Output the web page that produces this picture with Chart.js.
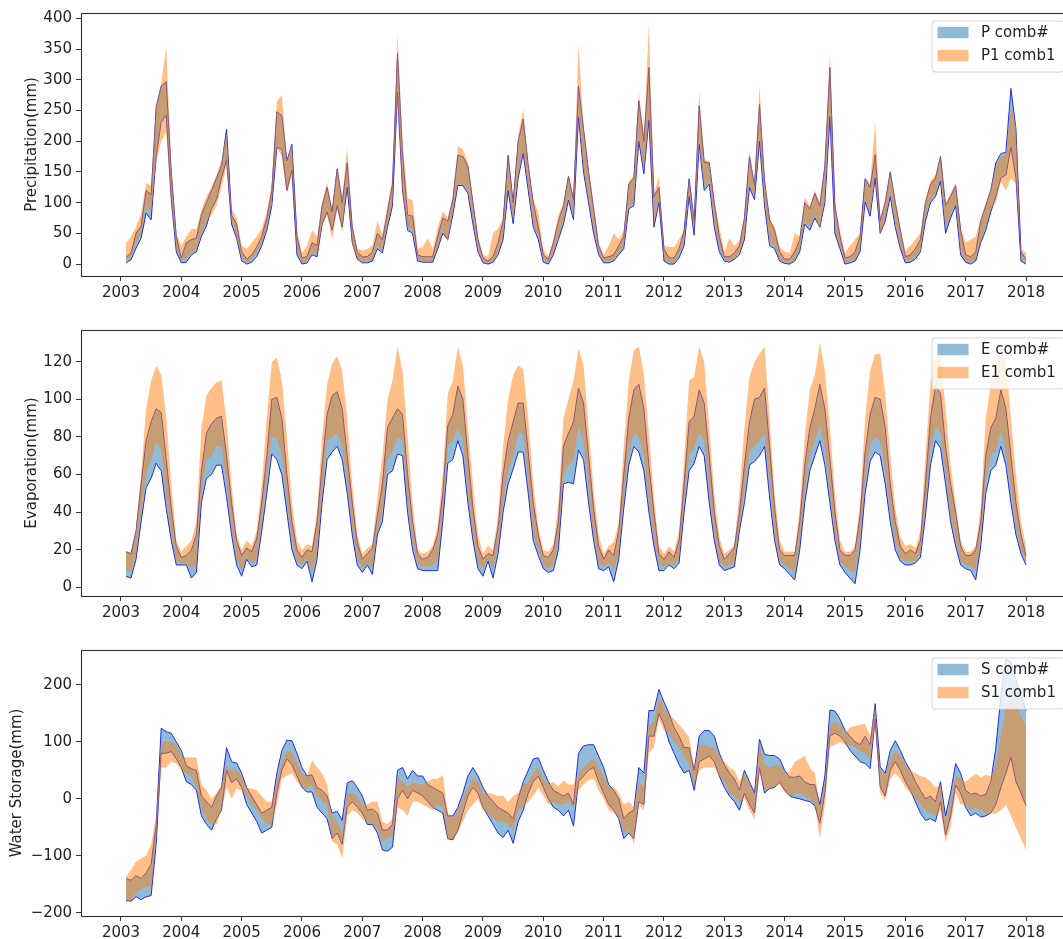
<!DOCTYPE html>
<html>
<head>
<meta charset="utf-8">
<script src="https://cdn.jsdelivr.net/npm/chart.js@4.4.1/dist/chart.umd.min.js"></script>
<style>
  html, body { margin: 0; padding: 0; background: #fff; overflow: hidden; width: 1063px; height: 939px; }
  .panel { position: absolute; left: 0; width: 1071px; height: 320px; }
</style>
</head>
<body>
<div class="panel" style="top:0px"><canvas id="chartP" width="1071" height="320"></canvas></div>
<div class="panel" style="top:317px"><canvas id="chartE" width="1071" height="320"></canvas></div>
<div class="panel" style="top:637px"><canvas id="chartS" width="1071" height="320"></canvas></div>
<script>
// Monthly series, Jan 2003 .. Dec 2017 (one row per year)

// Precipitation (mm)
const P_COMB_LO = [
  2, 7, 26, 42, 83, 72, 175, 231, 242, 105, 20, 2,
  3, 15, 20, 45, 62, 90, 105, 140, 170, 65, 42, 5,
  0, 3, 12, 30, 55, 95, 190, 187, 120, 153, 15, 0,
  2, 15, 12, 65, 85, 55, 95, 60, 125, 35, 8, 2,
  2, 5, 25, 18, 60, 95, 280, 120, 55, 50, 5, 3,
  3, 3, 25, 50, 40, 80, 128, 128, 115, 65, 20, 2,
  0, 3, 15, 40, 120, 66, 140, 180, 120, 60, 40, 3,
  0, 15, 40, 65, 104, 72, 240, 150, 100, 50, 15, 2,
  2, 5, 15, 25, 90, 95, 200, 147, 235, 60, 100, 5,
  0, 0, 10, 30, 110, 47, 195, 120, 130, 60, 20, 5,
  3, 8, 15, 40, 125, 105, 200, 95, 30, 25, 5, 1,
  0, 5, 20, 65, 55, 75, 60, 100, 240, 50, 25, 0,
  2, 5, 20, 101, 78, 140, 50, 70, 110, 60, 25, 2,
  3, 8, 20, 70, 100, 110, 135, 50, 75, 95, 15, 3,
  0, 5, 35, 55, 85, 110, 140, 145, 190, 140, 5, 0
];
const P_COMB_HI = [
  11, 18, 50, 62, 120, 113, 255, 290, 297, 150, 45, 10,
  35, 40, 42, 80, 100, 120, 140, 160, 220, 80, 65, 20,
  8, 15, 28, 45, 75, 120, 248, 242, 168, 195, 45, 10,
  12, 35, 30, 95, 125, 85, 155, 100, 165, 60, 20, 12,
  12, 20, 50, 40, 85, 130, 343, 180, 80, 78, 15, 12,
  12, 12, 45, 75, 70, 105, 177, 175, 160, 100, 40, 10,
  5, 12, 35, 70, 177, 100, 200, 236, 160, 100, 60, 15,
  8, 35, 70, 95, 143, 105, 290, 220, 150, 90, 30, 10,
  12, 15, 30, 45, 130, 140, 266, 200, 320, 110, 125, 25,
  10, 10, 25, 55, 139, 70, 258, 166, 165, 100, 45, 12,
  12, 18, 30, 75, 175, 128, 260, 135, 72, 55, 20, 8,
  8, 20, 40, 100, 90, 115, 95, 160, 320, 95, 45, 10,
  12, 20, 45, 139, 125, 178, 70, 100, 150, 100, 55, 12,
  15, 25, 40, 100, 130, 140, 175, 95, 110, 128, 55, 15,
  12, 20, 70, 95, 120, 165, 180, 182, 286, 220, 20, 8
];
const P1_COMB1_LO = [
  8, 12, 35, 50, 95, 85, 165, 200, 215, 100, 25, 5,
  10, 18, 22, 50, 70, 80, 95, 125, 160, 70, 45, 8,
  2, 8, 18, 35, 60, 100, 190, 175, 115, 145, 20, 2,
  5, 18, 15, 60, 80, 40, 90, 50, 130, 30, 10, 3,
  5, 8, 30, 22, 65, 100, 270, 115, 60, 55, 8, 5,
  5, 5, 28, 55, 35, 85, 130, 130, 118, 70, 22, 4,
  2, 5, 18, 45, 125, 70, 145, 185, 125, 65, 45, 5,
  2, 18, 45, 70, 110, 75, 245, 155, 105, 55, 18, 4,
  5, 8, 18, 30, 95, 100, 205, 150, 240, 65, 105, 8,
  2, 2, 15, 35, 115, 50, 200, 125, 135, 65, 25, 8,
  5, 10, 18, 45, 130, 108, 205, 100, 35, 30, 8, 3,
  2, 8, 25, 70, 60, 80, 55, 105, 245, 55, 28, 2,
  5, 8, 25, 105, 82, 145, 48, 75, 115, 65, 28, 5,
  6, 12, 22, 75, 105, 115, 140, 55, 80, 100, 18, 5,
  3, 8, 40, 60, 90, 100, 135, 120, 140, 130, 8, 2
];
const P1_COMB1_HI = [
  34, 45, 61, 82, 132, 128, 260, 295, 355, 160, 50, 30,
  45, 57, 57, 88, 110, 125, 145, 170, 215, 90, 75, 30,
  25, 35, 45, 58, 85, 130, 265, 275, 170, 195, 55, 18,
  30, 55, 45, 100, 133, 90, 160, 110, 190, 65, 25, 22,
  25, 30, 70, 48, 95, 140, 373, 200, 107, 104, 25, 28,
  42, 25, 60, 86, 75, 110, 192, 187, 165, 105, 45, 15,
  12, 50, 58, 75, 180, 105, 210, 252, 165, 105, 85, 25,
  12, 40, 80, 100, 145, 110, 358, 225, 155, 100, 35, 15,
  30, 50, 40, 55, 135, 145, 280, 210, 391, 115, 143, 30,
  28, 28, 40, 55, 142, 75, 282, 170, 168, 105, 60, 20,
  42, 30, 38, 80, 182, 135, 289, 140, 75, 60, 28, 20,
  18, 50, 45, 108, 95, 120, 100, 165, 345, 100, 55, 18,
  30, 40, 50, 142, 130, 231, 75, 105, 155, 105, 60, 22,
  30, 40, 50, 105, 135, 145, 176, 100, 115, 132, 60, 35,
  40, 45, 75, 100, 125, 160, 175, 178, 255, 225, 25, 18
];

// Evaporation (mm)
const E_COMB_LO = [
  6, 5, 15, 35, 53, 58, 66, 62, 42, 25, 12, 12,
  12, 5, 8, 45, 58, 60, 65, 65, 48, 28, 12, 6,
  15, 11, 12, 30, 50, 71, 68, 60, 40, 20, 12, 10,
  14, 3, 15, 45, 68, 72, 75, 68, 50, 28, 12, 8,
  12, 7, 28, 35, 60, 62, 71, 70, 40, 20, 10, 9,
  9, 9, 9, 35, 66, 68, 78, 70, 45, 25, 10, 6,
  14, 5, 18, 40, 55, 63, 72, 72, 50, 25, 17, 10,
  8, 9, 20, 55, 56, 55, 73, 68, 45, 25, 10, 9,
  11, 3, 15, 42, 65, 75, 72, 62, 40, 22, 9, 9,
  12, 10, 13, 40, 62, 66, 75, 70, 45, 25, 12, 9,
  10, 11, 30, 45, 65, 67, 70, 75, 48, 25, 12, 10,
  7, 4, 20, 45, 62, 70, 78, 65, 45, 25, 12, 8,
  5, 2, 20, 50, 67, 72, 70, 55, 35, 20, 14, 12,
  12, 13, 16, 38, 65, 78, 74, 55, 35, 22, 12, 10,
  9, 4, 22, 50, 62, 65, 75, 65, 45, 28, 18, 12
];
const E_COMB_HI = [
  19, 18, 30, 55, 78, 88, 95, 93, 68, 42, 22, 16,
  17, 20, 28, 62, 82, 87, 90, 91, 70, 45, 25, 17,
  21, 19, 26, 45, 70, 100, 101, 90, 60, 35, 20, 16,
  20, 19, 35, 65, 92, 102, 104, 95, 70, 45, 24, 15,
  18, 21, 38, 55, 85, 90, 95, 92, 60, 35, 18, 15,
  16, 20, 28, 50, 86, 92, 107, 100, 70, 42, 22, 15,
  18, 17, 32, 60, 78, 88, 98, 98, 72, 45, 28, 17,
  16, 20, 35, 75, 82, 88, 106, 98, 70, 42, 22, 15,
  20, 17, 30, 60, 90, 105, 108, 95, 65, 40, 18, 15,
  19, 16, 25, 55, 88, 91, 105, 98, 70, 40, 22, 15,
  18, 21, 40, 65, 88, 100, 101, 106, 75, 42, 20, 17,
  17, 17, 35, 65, 85, 95, 108, 95, 68, 40, 20, 17,
  17, 20, 38, 72, 92, 101, 100, 85, 55, 35, 22, 18,
  20, 18, 25, 55, 90, 107, 103, 75, 55, 40, 22, 17,
  17, 20, 35, 70, 85, 90, 105, 95, 70, 45, 28, 17
];
const E1_COMB1_LO = [
  9, 8, 18, 40, 60, 68, 77, 73, 48, 28, 14, 13,
  13, 10, 12, 50, 68, 70, 75, 75, 55, 32, 15, 9,
  16, 13, 15, 35, 58, 80, 79, 70, 45, 25, 14, 12,
  15, 8, 18, 50, 78, 80, 82, 75, 55, 32, 15, 10,
  13, 10, 30, 40, 68, 72, 80, 78, 45, 24, 12, 11,
  11, 12, 14, 40, 75, 78, 85, 78, 50, 28, 13, 10,
  15, 10, 22, 45, 62, 70, 82, 82, 55, 28, 20, 12,
  10, 12, 25, 60, 65, 68, 85, 78, 52, 28, 13, 11,
  13, 9, 18, 48, 72, 82, 80, 70, 45, 25, 12, 11,
  13, 12, 16, 45, 70, 74, 82, 78, 52, 28, 14, 11,
  12, 13, 32, 52, 72, 75, 78, 82, 55, 28, 14, 12,
  10, 8, 24, 50, 70, 78, 86, 73, 50, 28, 14, 11,
  9, 8, 25, 56, 76, 80, 78, 62, 40, 24, 16, 14,
  14, 14, 18, 42, 73, 86, 82, 60, 38, 25, 14, 12,
  11, 9, 25, 57, 70, 73, 83, 72, 52, 32, 20, 14
];
const E1_COMB1_HI = [
  19.5, 18, 32, 60, 95, 110, 118, 113, 90, 55, 25, 19,
  22, 25, 35, 85, 102, 106, 109, 110, 88, 55, 28, 20,
  25, 22, 30, 55, 90, 120, 122, 110, 80, 45, 25, 20,
  23, 22, 40, 80, 108, 119, 123, 115, 90, 55, 28, 18,
  21, 23, 48, 70, 100, 110, 128, 115, 80, 45, 20, 18,
  19, 22, 33, 60, 103, 110, 128, 118, 85, 55, 28, 18,
  22, 20, 38, 75, 100, 113, 118, 116, 90, 55, 32, 20,
  19, 23, 45, 90, 100, 110, 127, 118, 85, 52, 28, 18,
  22, 24, 35, 75, 110, 126, 128, 113, 82, 48, 22, 18,
  22, 19, 30, 68, 110, 112, 128, 120, 85, 50, 27, 18,
  20, 23, 50, 85, 112, 120, 124, 128, 90, 50, 25, 19,
  19, 19, 42, 80, 105, 113, 130, 115, 85, 50, 25, 19,
  19, 22, 45, 90, 115, 124, 124, 103, 70, 42, 27, 22,
  23, 21, 30, 70, 108, 125, 122, 95, 65, 45, 25, 19,
  19, 22, 42, 90, 108, 115, 126, 120, 90, 60, 35, 22
];

// Water storage (mm)
const S_COMB_LO = [
  -178, -180, -172, -177, -172, -170, -80, 80, 80, 83, 70, 55,
  30, 25, 15, -30, -45, -55, -35, -20, 50, 28, 35, 20,
  -10, -25, -40, -60, -55, -50, 10, 50, 70, 60, 40, 20,
  12, 12, -15, -25, -35, -70, -60, -80, -15, -5, -15, -25,
  -45, -45, -60, -90, -92, -85, 0, 15, 0, 15, 10, 5,
  -5, -15, -20, -25, -70, -72, -55, -25, 5, 20, 10, -15,
  -30, -45, -60, -68, -55, -78, -40, -20, 10, 30, 40, 20,
  0, -15, -20, -30, -20, -48, 30, 40, 50, 55, 30, 10,
  -10, -20, -35, -70, -60, -70, -5, -10, 110, 110, 150, 130,
  100, 80, 60, 45, 50, 15, 65, 70, 75, 65, 40, 20,
  5, -5, -20, 10, -10, -25, 55, 10, 18, 20, 30, 15,
  5, 2, 0, -3, -5, -12, -43, 10, 111, 115, 110, 100,
  85, 75, 65, 62, 53, 140, 21, 5, 50, 65, 50, 30,
  15, -5, -25, -38, -35, -40, -5, -64, -30, 24, 10, -15,
  -30, -25, -32, -30, -25, -10, 20, 45, 73, 30, 10, -12
];
const S_COMB_HI = [
  -140, -143, -135, -140, -130, -115, -45, 124, 118, 115, 100, 85,
  58, 53, 50, 5, -5, -15, 5, 20, 90, 65, 63, 45,
  20, 5, -10, -25, -20, -15, 45, 85, 103, 102, 80, 55,
  40, 42, 20, 15, 5, -25, -22, -38, 28, 32, 20, 5,
  -20, -18, -25, -55, -55, -45, 50, 55, 35, 50, 40, 40,
  25, 20, 15, 10, -30, -30, -15, 10, 40, 55, 40, 20,
  5, -5, -15, -20, -25, -35, 0, 30, 50, 70, 72, 50,
  30, 15, 10, 5, 10, -10, 80, 93, 95, 95, 75, 55,
  25, 15, 0, -35, -25, -20, 55, 45, 155, 155, 192, 170,
  150, 125, 110, 90, 90, 50, 110, 120, 120, 110, 80, 60,
  45, 35, 15, 50, 30, 10, 105, 78, 76, 76, 70, 50,
  38, 38, 40, 30, 25, 25, -10, 40, 156, 154, 140, 120,
  110, 100, 95, 110, 95, 167, 56, 45, 85, 102, 85, 65,
  50, 30, 15, 0, 5, -5, 30, -30, 10, 62, 45, 15,
  8, 10, 5, 8, 30, 90, 180, 245, 240, 210, 180, 155
];
const S1_COMB1_LO = [
  -182, -178, -165, -158, -155, -155, -70, 55, 55, 65, 62, 50,
  45, 40, 20, -15, -35, -45, -45, -20, 20, 0, 18, 15,
  5, -10, -20, -35, -45, -45, -10, 35, 40, 45, 30, 20,
  18, 25, 5, -5, -10, -75, -80, -105, -30, -20, -25, -35,
  -40, -45, -50, -75, -70, -65, -15, -20, -30, -5, -5, -10,
  -15, -20, -10, -15, -73, -70, -60, -40, -20, -10, 0, -20,
  -25, -35, -40, -40, -45, -55, -20, -15, -5, 5, 20, 5,
  -10, -5, -10, -10, -5, -15, 15, 25, 32, 35, 15, 0,
  -20, -25, -30, -60, -55, -80, -10, -20, 80, 90, 140, 120,
  115, 100, 90, 75, 60, 25, 50, 55, 55, 55, 40, 30,
  10, 5, -5, 0, -20, -35, 45, 15, 18, 22, 25, 12,
  5, 8, 10, 5, 0, -10, -70, -10, 91, 95, 100, 95,
  95, 90, 85, 80, 70, 130, 10, -3, 35, 45, 35, 20,
  10, 0, -10, -20, -25, -30, -20, -76, -50, 10, -10, -10,
  -20, -15, -20, -26, -26, -26, -20, -10, -30, -50, -70, -90
];
const S1_COMB1_HI = [
  -137, -125, -110, -105, -100, -80, -30, 100, 102, 100, 95, 75,
  73, 73, 72, 25, 15, 0, 10, 25, 60, 50, 50, 40,
  20, 18, 15, 5, -5, -5, 30, 65, 85, 80, 65, 45,
  40, 68, 55, 45, 25, -30, -40, -60, 10, 10, 5, -10,
  -10, -5, -5, -40, -45, -35, 40, 30, 20, 30, 25, 25,
  30, 35, 35, 42, -25, -35, -20, 0, 20, 35, 30, 10,
  10, 8, 5, 6, -5, 5, 10, 25, 30, 45, 55, 35,
  25, 30, 22, 32, 25, 25, 45, 55, 65, 70, 55, 40,
  20, 20, 10, -10, -5, -15, 30, 20, 130, 135, 180, 160,
  150, 140, 130, 120, 108, 55, 95, 95, 90, 90, 75, 65,
  55, 50, 30, 45, 25, 10, 100, 60, 55, 58, 60, 45,
  48, 65, 70, 76, 55, 45, -15, 30, 130, 135, 130, 115,
  125, 128, 130, 132, 110, 165, 50, 40, 70, 85, 75, 60,
  50, 45, 40, 38, 30, 20, 25, -40, -5, 40, 35, 30,
  38, 44, 38, 42, 40, 60, 110, 160, 175, 165, 145, 126
];

// Axis tick labels
const YEAR_TICKS = [2003, 2004, 2005, 2006, 2007, 2008, 2009, 2010, 2011, 2012, 2013, 2014, 2015, 2016, 2017, 2018];
const P_TICKS = [0, 50, 100, 150, 200, 250, 300, 350, 400];
const E_TICKS = [0, 20, 40, 60, 80, 100, 120];
const S_TICKS = [-200, -100, 0, 100, 200];

const FONT = 'DejaVu Sans';
const TEXT = '#222';
const AXIS = '#333';
const BLUE_FILL = 'rgba(31,119,180,0.5)';
const ORANGE_FILL = 'rgba(255,127,14,0.5)';
const EDGE_BLUE = 'rgb(30,45,225)';

// month-end positions as decimal years
const xAt = i => 2003 + (i + 1) / 12;
const pts = arr => arr.map((v, i) => ({ x: xAt(i), y: v }));
const minusFmt = v => (v < 0 ? '\u2212' + Math.abs(v) : String(v));

const framePlugin = {
  id: 'frame',
  afterDatasetsDraw(chart) {
    const { ctx, chartArea: a } = chart;
    ctx.save();
    ctx.strokeStyle = AXIS;
    ctx.lineWidth = 1.1;
    ctx.strokeRect(Math.round(a.left) + 0.5, Math.round(a.top) + 0.5,
                   Math.round(a.right - a.left), Math.round(a.bottom - a.top));
    ctx.restore();
  }
};

const boxLegend = {
  id: 'boxLegend',
  afterDraw(chart, args, opts) {
    const { ctx, chartArea: a } = chart;
    const w = 132, h = 51;
    const x0 = a.right - 7.5 - w, y0 = a.top + 7.5;
    ctx.save();
    ctx.beginPath();
    ctx.roundRect(x0 + 0.5, y0 + 0.5, w, h, 3);
    ctx.fillStyle = 'rgba(255,255,255,0.8)';
    ctx.fill();
    ctx.strokeStyle = '#d4d4d4';
    ctx.lineWidth = 1;
    ctx.stroke();
    ctx.font = '15px "' + FONT + '"';
    ctx.textBaseline = 'middle';
    ctx.textAlign = 'left';
    opts.items.forEach((it, i) => {
      const cy = y0 + 12 + i * 23;
      ctx.fillStyle = it.color;
      ctx.fillRect(x0 + 6, cy - 5.7, 31, 11.4);
      ctx.fillStyle = TEXT;
      ctx.fillText(it.text, x0 + 49.5, cy + 1);
    });
    ctx.restore();
  }
};

function makePanel(id, cfg) {
  const datasets = [
    // comb#: boundary lines in blue over a translucent band
    { label: cfg.names[0] + ' low', data: pts(cfg.blueLo), borderColor: EDGE_BLUE, borderWidth: 1, fill: false, order: 2 },
    { label: cfg.names[0], data: pts(cfg.blueHi), borderColor: EDGE_BLUE, borderWidth: 1, backgroundColor: BLUE_FILL, fill: '-1', order: 2 },
    // comb1: translucent band on top
    { label: cfg.names[1] + ' low', data: pts(cfg.orLo), borderColor: 'rgba(0,0,0,0)', borderWidth: 0, fill: false, order: 1 },
    { label: cfg.names[1], data: pts(cfg.orHi), borderColor: 'rgba(0,0,0,0)', borderWidth: 0, backgroundColor: ORANGE_FILL, fill: '-1', order: 1 }
  ];
  return new Chart(document.getElementById(id), {
    type: 'line',
    data: { datasets },
    plugins: [framePlugin, boxLegend],
    options: {
      responsive: false,
      animation: false,
      events: [],
      layout: { padding: { top: 12, left: 0, right: 0, bottom: 0 } },
      elements: {
        point: { radius: 0 },
        line: { tension: 0, borderJoinStyle: 'round' }
      },
      plugins: {
        legend: { display: false },
        tooltip: { enabled: false },
        filler: { drawTime: 'beforeDatasetDraw' },
        boxLegend: { items: [
          { text: cfg.names[0], color: 'rgba(31,119,180,0.5)' },
          { text: cfg.names[1], color: 'rgba(255,127,14,0.5)' }
        ] }
      },
      scales: {
        x: {
          type: 'linear',
          min: 2002.3375,
          max: 2018.7458,
          afterFit: s => { s.height = cfg.xAxisHeight; },
          afterBuildTicks: s => { s.ticks = YEAR_TICKS.map(v => ({ value: v })); },
          border: { display: false },
          grid: { display: true, drawOnChartArea: false, drawTicks: true, tickLength: 5, tickColor: AXIS, lineWidth: 1 },
          ticks: { autoSkip: false, maxRotation: 0, padding: 3, color: TEXT, font: { family: FONT, size: 15 }, callback: v => String(v) }
        },
        y: {
          type: 'linear',
          min: cfg.yMin,
          max: cfg.yMax,
          afterFit: s => { s.width = 81; },
          afterBuildTicks: s => { s.ticks = cfg.yTicks.map(v => ({ value: v })); },
          border: { display: false },
          grid: { display: true, drawOnChartArea: false, drawTicks: true, tickLength: 5, tickColor: AXIS, lineWidth: 1 },
          ticks: { autoSkip: false, padding: 4, color: TEXT, font: { family: FONT, size: 15 }, callback: minusFmt },
          title: { display: true, text: cfg.yTitle, color: TEXT, font: { family: FONT, size: 15 }, padding: { top: cfg.titleGap, bottom: 0 } }
        }
      }
    }
  });
}

makePanel('chartP', {
  names: ['P comb#', 'P1 comb1'],
  blueLo: P_COMB_LO, blueHi: P_COMB_HI, orLo: P1_COMB1_LO, orHi: P1_COMB1_HI,
  yMin: -19.4, yMax: 408.8, yTicks: P_TICKS, yTitle: 'Precipitation(mm)', xAxisHeight: 44, titleGap: 23
});
makePanel('chartE', {
  names: ['E comb#', 'E1 comb1'],
  blueLo: E_COMB_LO, blueHi: E_COMB_HI, orLo: E1_COMB1_LO, orHi: E1_COMB1_HI,
  yMin: -4.5, yMax: 136.8, yTicks: E_TICKS, yTitle: 'Evaporation(mm)', xAxisHeight: 41, titleGap: 23
});
makePanel('chartS', {
  names: ['S comb#', 'S1 comb1'],
  blueLo: S_COMB_LO, blueHi: S_COMB_HI, orLo: S1_COMB1_LO, orHi: S1_COMB1_HI,
  yMin: -205.8, yMax: 261.3, yTicks: S_TICKS, yTitle: 'Water Storage(mm)', xAxisHeight: 41, titleGap: 8
});
</script>
</body>
</html>
